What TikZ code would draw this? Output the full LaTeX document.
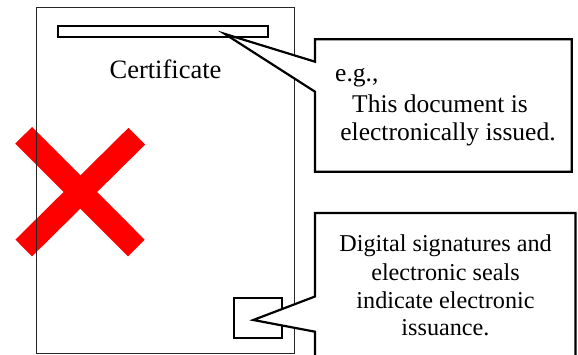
\documentclass[tikz,border=0pt]{standalone}
\usepackage{fontspec}
\setmainfont{Liberation Serif}
\begin{document}
\begin{tikzpicture}[x=1pt,y=-1pt,
  pageline/.style={draw=black!85,line width=1.1pt},
  boxline/.style={draw=black,line width=2.2pt,fill=white,line join=miter},
  smallbox/.style={draw=black,line width=2pt,inner sep=0pt,anchor=north west},
  crossline/.style={draw=red,line width=23.6pt,line cap=butt},
  txt/.style={anchor=base,inner sep=0pt},
  fA/.style={font=\fontsize{26.5}{30}\selectfont},
  fB/.style={font=\fontsize{25.5}{29}\selectfont},
  fC/.style={font=\fontsize{24.2}{28}\selectfont}]
\useasboundingbox (0,0) rectangle (578,355);
\clip (0,0) rectangle (578,355);
% red cross
\coordinate (xa) at (23.7,135.3);
\coordinate (xb) at (136.3,248);
\coordinate (xc) at (136.8,136.2);
\coordinate (xd) at (23.7,248);
\draw[crossline] (xa) -- (xb);
\draw[crossline] (xc) -- (xd);
% page
\node[pageline,inner sep=0pt,anchor=north west,minimum width=258pt,minimum height=345.7pt] (page) at (36,7) {};
\node[smallbox,minimum width=210pt,minimum height=11pt] (bar) at (57,25) {};
\node[smallbox,minimum width=48pt,minimum height=39.4pt] (seal) at (232.7,297.3) {};
\node[txt,fA] (cert) at (165.5,78.3) {Certificate};
% callout 1
\coordinate (tip1) at (225,34);
\draw[boxline] (315,39.3) -- (571.7,39.3) -- (571.7,171.7) -- (315,171.7) -- (315,91.7) -- (tip1) -- (315,61.7) -- cycle;
\node[txt,fB,anchor=base west] (eg) at (335,82) {e.g.,};
\node[txt,fB] (c1l1) at (440,113) {This document is};
\node[txt,fB] (c1l2) at (448,140.5) {electronically issued.};
% callout 2
\coordinate (tip2) at (253.3,320);
\draw[boxline] (315,213) -- (575.5,213) -- (575.5,370) -- (315,370) -- (315,331.7) -- (tip2) -- (315,296.5) -- cycle;
\node[txt,fC] (c2l1) at (445.5,251.7) {Digital signatures and};
\node[txt,fC] (c2l2) at (445.5,280) {electronic seals};
\node[txt,fC] (c2l3) at (445.5,308) {indicate electronic};
\node[txt,fC] (c2l4) at (445.5,335.5) {issuance.};
\end{tikzpicture}
\end{document}
